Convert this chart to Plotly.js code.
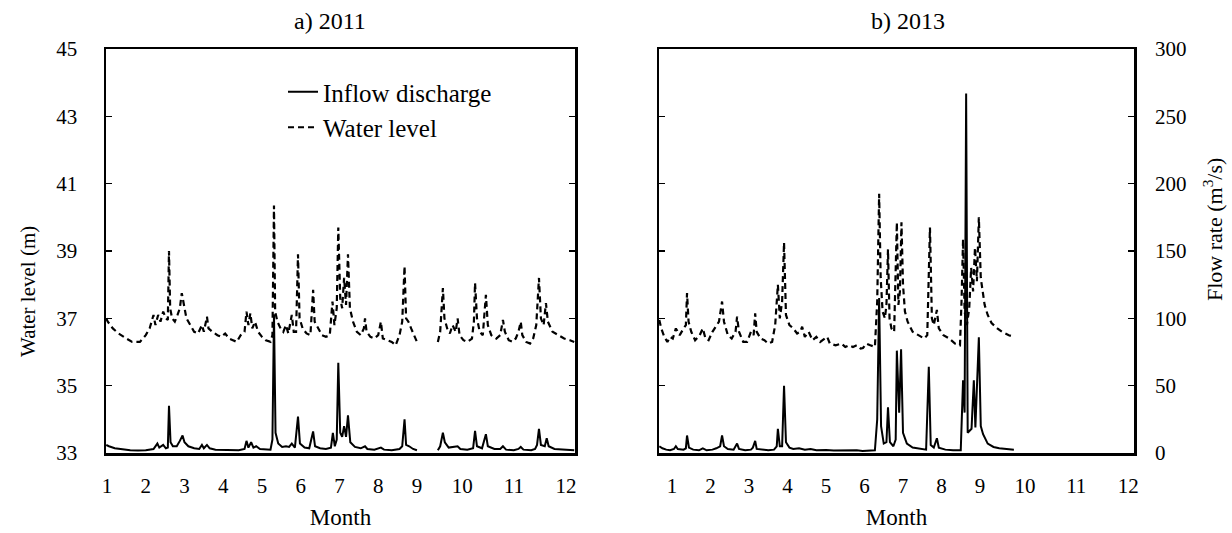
<!DOCTYPE html>
<html><head><meta charset="utf-8">
<script src="https://cdn.plot.ly/plotly-3.0.1.min.js"></script>
<style>html,body{margin:0;padding:0;background:#fff}#chart{width:1232px;height:533px}</style>
</head><body><div id="chart"></div>
<script>
// ---- data (x in month units) ----
const monthTickText = ['1','2','3','4','5','6','7','8','9','10','11','12'];

const wl2011X = [0.98,1.02,1.15,1.3,1.5,1.65,1.85,2.0,2.1,2.2,2.25,2.32,2.38,2.45,2.52,2.57,2.6,2.63,2.68,2.75,2.82,2.88,2.93,2.98,3.05,3.15,3.25,3.35,3.45,3.5,3.58,3.62,3.72,3.85,3.95,4.05,4.15,4.25,4.35,4.45,4.55,4.6,4.65,4.7,4.75,4.82,4.9,5.0,5.1,5.22,5.27,5.31,5.34,5.4,5.48,5.55,5.62,5.68,5.77,5.82,5.88,5.93,5.97,6.05,6.15,6.25,6.32,6.36,6.45,6.55,6.65,6.75,6.82,6.87,6.93,6.97,7.02,7.07,7.12,7.17,7.22,7.27,7.35,7.45,7.55,7.63,7.66,7.7,7.8,7.9,8.0,8.07,8.12,8.25,8.35,8.45,8.55,8.62,8.68,8.72,8.78,8.85,8.92,9.0,9.25,9.54,9.6,9.67,9.71,9.78,9.85,9.92,10.0,10.05,10.1,10.2,10.3,10.42,10.47,10.5,10.55,10.62,10.7,10.78,10.83,10.92,11.05,11.15,11.22,11.27,11.37,11.47,11.55,11.62,11.68,11.72,11.82,11.92,12.0,12.08,12.15,12.2,12.27,12.33,12.38,12.5,12.65,12.8,12.95,13.06];
const wl2011Y = [37.0,36.9,36.7,36.55,36.4,36.3,36.3,36.5,36.7,37.1,36.8,37.1,36.9,37.2,37.0,36.95,39.0,37.3,37.0,36.9,37.1,37.3,37.75,37.4,37.0,36.8,36.6,36.55,36.8,36.6,37.05,36.7,36.6,36.5,36.45,36.55,36.4,36.35,36.3,36.5,36.6,37.2,36.8,37.15,36.7,36.9,36.6,36.45,36.35,36.3,36.5,40.35,37.2,36.9,36.7,36.6,36.8,36.55,37.1,36.6,36.6,38.9,37.0,36.7,36.55,36.5,37.85,36.9,36.7,36.5,36.45,36.5,37.5,36.8,37.3,39.7,37.6,37.3,38.2,37.4,38.9,37.3,36.9,36.6,36.5,36.7,37.0,36.6,36.45,36.4,36.5,36.9,36.4,36.35,36.3,36.2,36.5,36.9,38.55,37.0,36.9,36.7,36.5,36.3,null,36.3,36.6,37.9,37.0,36.7,36.55,36.8,36.6,37.0,36.5,36.35,36.3,36.4,36.9,38.05,37.0,36.6,36.5,37.7,36.8,36.5,36.4,36.5,36.95,36.6,36.35,36.3,36.4,36.6,36.9,36.5,36.3,36.25,36.4,36.8,38.2,37.0,36.8,37.45,36.9,36.6,36.5,36.4,36.35,36.3];

const q2011X = [0.98,1.05,1.2,1.4,1.6,1.8,2.0,2.2,2.3,2.35,2.45,2.52,2.57,2.6,2.64,2.7,2.8,2.88,2.95,3.0,3.1,3.25,3.38,3.45,3.5,3.58,3.65,3.8,4.0,4.2,4.4,4.55,4.6,4.65,4.72,4.78,4.85,4.95,5.1,5.22,5.27,5.31,5.35,5.42,5.52,5.62,5.7,5.77,5.85,5.93,5.98,6.1,6.22,6.32,6.37,6.5,6.65,6.78,6.83,6.88,6.93,6.97,7.02,7.07,7.12,7.17,7.22,7.28,7.4,7.55,7.66,7.72,7.9,8.07,8.15,8.35,8.55,8.62,8.68,8.72,8.8,8.9,9.0,9.25,9.54,9.6,9.67,9.72,9.82,9.92,10.05,10.12,10.3,10.45,10.5,10.55,10.68,10.78,10.83,11.0,11.15,11.22,11.3,11.5,11.62,11.68,11.75,11.95,12.05,12.1,12.15,12.2,12.3,12.35,12.4,12.55,12.75,12.95,13.06];
const q2011Y = [6,5,3.5,2.5,2,1.8,2,3,7,4,6,3.5,4,35,8,5,5,9,13,8,5,3.5,3,6,3.5,6,3.5,2.5,2.2,2,2,3,9,4,8,4,5,3,2.5,2.5,10,103,15,7,4.5,5,4.5,7,4,27,7,4,3.5,16,5,3.5,3,4,15,5,10,67,15,12,20,12,28,8,4.5,3.5,5,3,2.5,4,2.5,2,3,5,25,6,5,3,2,null,2,5,15,8,4,4.5,5,3,2.5,3.5,16.5,5,3.5,14,5,3,3,5,2.5,2,3,4.5,2.5,2,3,6,18,6,5,11,5,3,2.5,2,2];

const wl2013X = [0.67,0.72,0.8,0.88,0.95,1.02,1.1,1.2,1.3,1.36,1.39,1.43,1.5,1.6,1.72,1.8,1.87,1.95,2.05,2.15,2.22,2.3,2.35,2.45,2.55,2.65,2.69,2.74,2.85,2.95,3.05,3.12,3.16,3.2,3.3,3.4,3.5,3.6,3.68,3.75,3.8,3.86,3.91,3.96,4.05,4.15,4.25,4.33,4.38,4.45,4.55,4.65,4.75,4.85,5.03,5.1,5.25,5.4,5.5,5.6,5.7,5.8,5.9,5.96,6.05,6.15,6.27,6.33,6.38,6.42,6.47,6.53,6.57,6.61,6.65,6.7,6.77,6.84,6.88,6.92,6.96,7.0,7.05,7.12,7.25,7.4,7.55,7.63,7.7,7.75,7.8,7.88,7.93,8.05,8.2,8.35,8.48,8.52,8.56,8.6,8.66,8.72,8.77,8.82,8.87,8.92,8.97,9.02,9.07,9.12,9.2,9.3,9.45,9.57,9.75,9.88];
const wl2013Y = [36.95,36.7,36.45,36.3,36.45,36.4,36.7,36.5,36.7,36.8,37.75,36.9,36.6,36.35,36.5,36.7,36.4,36.35,36.6,36.8,36.9,37.5,36.9,36.5,36.4,36.6,37.05,36.6,36.3,36.3,36.6,36.5,37.15,36.6,36.4,36.35,36.25,36.3,36.8,38.0,37.0,37.5,39.25,37.1,36.8,36.7,36.55,36.6,36.75,36.45,36.6,36.35,36.45,36.3,36.45,36.25,36.2,36.25,36.15,36.2,36.15,36.2,36.1,36.12,36.25,36.2,36.15,37.5,40.7,38.2,37.2,37.0,37.4,39.05,37.0,36.7,36.6,39.85,37.4,37.8,39.85,38.0,37.2,36.9,36.6,36.5,36.4,36.5,39.7,37.0,36.8,37.25,36.7,36.5,36.4,36.25,36.2,37.5,39.35,37.2,36.8,37.3,38.5,37.8,39.1,38.1,40.0,38.2,37.8,37.4,37.1,36.86,36.7,36.6,36.5,36.45];

const q2013X = [0.67,0.75,0.85,0.95,1.05,1.1,1.15,1.3,1.36,1.39,1.44,1.55,1.7,1.8,1.9,2.05,2.15,2.25,2.3,2.35,2.45,2.6,2.69,2.74,2.9,3.05,3.1,3.16,3.2,3.35,3.5,3.65,3.72,3.75,3.8,3.86,3.91,3.96,4.05,4.15,4.3,4.45,4.6,4.75,5.0,5.2,5.4,5.6,5.8,5.95,6.1,6.27,6.33,6.38,6.43,6.5,6.57,6.61,6.66,6.75,6.81,6.84,6.9,6.95,7.0,7.1,7.25,7.45,7.6,7.67,7.72,7.8,7.88,7.93,8.1,8.3,8.5,8.56,8.6,8.64,8.68,8.78,8.84,8.88,8.97,9.02,9.08,9.2,9.35,9.5,9.7,9.88];
const q2013Y = [5,3.5,2.5,2,3,5,3,2.5,3.5,13,4,2.5,2,3.5,2,2.5,3.5,5,13,5,3,2.5,7,3,2,2.5,4,9,3,2.5,2,2.5,5,18,5,5,50,8,4,3,3.5,2.5,3,2,2.2,1.8,2,1.8,2,1.5,1.8,2,25,115,20,7,8,34,8,5,10,76,30,77,15,7,4,3,2.5,64,6,4,11,4,2.5,2,2,54,30,267,15,18,54,19,86,20,14,7,4.5,3.5,3,2.5];

// ---- layout helpers (pixel -> paper) ----
const L = 106, R = 1134, T = 49, B = 453;
const pxX = x => (x - L) / (R - L);
const pxY = y => (B - y) / (B - T);
const tickPos = [1,2,3,4,5,6,7,8,9,10.17,11.5,12.85];

const solid = {color:'#000', width:2};
const dashed = {color:'#000', width:2.2, dash:'6px,4px'};

const traces = [
  {x:q2011X, y:q2011Y, xaxis:'x', yaxis:'y2', mode:'lines', line:solid, name:'Inflow discharge', legendgroup:'a', showlegend:true},
  {x:wl2011X, y:wl2011Y, xaxis:'x', yaxis:'y', mode:'lines', line:dashed, name:'Water level', legendgroup:'b', showlegend:true},
  {x:wl2013X, y:wl2013Y, xaxis:'x2', yaxis:'y3', mode:'lines', line:dashed, name:'Water level', showlegend:false},
  {x:q2013X, y:q2013Y, xaxis:'x2', yaxis:'y4', mode:'lines', line:solid, name:'Inflow discharge', showlegend:false}
];

const axLine = {showline:true, linewidth:2.5, linecolor:'#000', showgrid:false, zeroline:false};
const xCommon = Object.assign({}, axLine, {
  tickmode:'array', tickvals:tickPos, ticktext:monthTickText, ticks:'', mirror:true,
  ticklabelstandoff:12, tickfont:{size:21},
  title:{text:'Month', font:{size:23}, standoff:12}
});
const yWL = Object.assign({}, axLine, {
  range:[33,45], tick0:33, dtick:2, ticks:'inside', ticklen:6, tickwidth:1.5, tickcolor:'#000', mirror:'ticks'
});

const layout = {
  width:1232, height:533,
  margin:{l:L, r:1232-R, t:T, b:533-B, pad:0},
  paper_bgcolor:'#fff', plot_bgcolor:'#fff',
  font:{family:'"Liberation Serif", "Times New Roman", serif', size:21, color:'#000'},
  showlegend:true,
  legend:{x:pxX(283), y:pxY(69), xanchor:'left', yanchor:'top', bgcolor:'rgba(0,0,0,0)',
          font:{size:25}, tracegroupgap:0, itemclick:false},
  xaxis:Object.assign({}, xCommon, {domain:[0, pxX(575)], anchor:'y', range:[0.974,13.08]}),
  xaxis2:Object.assign({}, xCommon, {domain:[pxX(659), 1], anchor:'y3', range:[0.662,13.0]}),
  yaxis:Object.assign({}, yWL, {anchor:'x', ticklabelstandoff:22, tickfont:{size:21}}),
  yaxis2:{overlaying:'y', anchor:'x', range:[0,300], visible:false},
  yaxis3:Object.assign({}, yWL, {anchor:'x2', showticklabels:false}),
  yaxis4:{overlaying:'y3', anchor:'x2', side:'right', range:[0,300], tick0:0, dtick:50, ticks:'',
          showline:false, showgrid:false, zeroline:false, ticklabelstandoff:20, tickfont:{size:21}},
  annotations:[
    {text:'a) 2011', xref:'paper', yref:'paper', x:pxX(330), y:pxY(21), xanchor:'center', yanchor:'middle', showarrow:false, font:{size:24}},
    {text:'b) 2013', xref:'paper', yref:'paper', x:pxX(908), y:pxY(21), xanchor:'center', yanchor:'middle', showarrow:false, font:{size:24}},
    {text:'Water level (m)', xref:'paper', yref:'paper', x:pxX(28), y:pxY(292), xanchor:'center', yanchor:'middle', textangle:-90, showarrow:false, font:{size:21}},
    {text:'Flow rate (m<sup>3</sup>/s)', xref:'paper', yref:'paper', x:pxX(1213), y:pxY(230), xanchor:'center', yanchor:'middle', textangle:-90, showarrow:false, font:{size:22}}
  ]
};

Plotly.newPlot('chart', traces, layout, {staticPlot:true, displayModeBar:false});
</script></body></html>
